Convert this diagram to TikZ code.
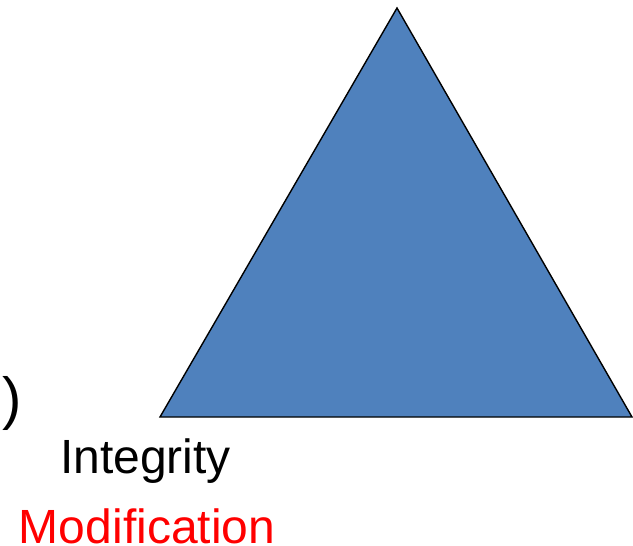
\documentclass[tikz,border=0pt]{standalone}
\usepackage{fontspec}
\setmainfont{Liberation Sans}
\definecolor{triblue}{RGB}{79,129,189}
\tikzset{
	label text/.style={inner sep=0pt, outer sep=0pt, anchor=base west, font=\fontsize{48}{56}\selectfont},
}
\begin{document}
\begin{tikzpicture}[x=1pt, y=-1pt]
	\useasboundingbox (0, 0) rectangle (633, 546);
	%\draw[help lines] (0,0) grid (633,546);
	\coordinate (top) at (397, 8);
	\coordinate (left) at (160, 417);
	\coordinate (right) at (632, 417);
	\draw[fill=triblue, line width=1.4pt, line join=miter] (top) -- (left) -- (right) -- cycle;

	\node [label text, font=\fontsize{58}{64}\selectfont] (paren) at (2, 418) {)};
	\node [label text] (integrity) at (60, 473) {Integrity};
	\node [label text, text=red, text depth=0pt] (modification) at (19, 543) {Modification};
\end{tikzpicture}
\end{document}
